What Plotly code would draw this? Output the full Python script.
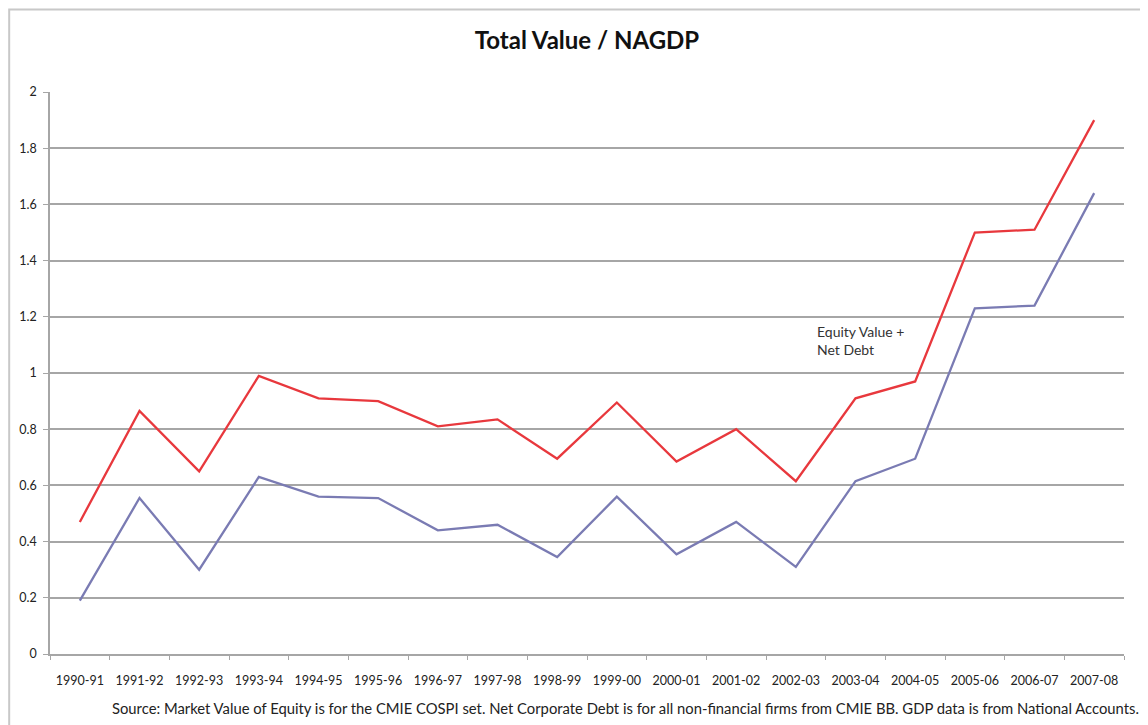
import plotly.graph_objects as go

# data
years = [
    "1990-91", "1991-92", "1992-93", "1993-94", "1994-95", "1995-96",
    "1996-97", "1997-98", "1998-99", "1999-00", "2000-01", "2001-02",
    "2002-03", "2003-04", "2004-05", "2005-06", "2006-07", "2007-08",
]
equity_plus_debt = [
    0.47, 0.865, 0.65, 0.99, 0.91, 0.90, 0.81, 0.835, 0.695, 0.895,
    0.685, 0.80, 0.615, 0.91, 0.97, 1.50, 1.51, 1.90,
]
equity_value = [
    0.19, 0.555, 0.30, 0.63, 0.56, 0.555, 0.44, 0.46, 0.345, 0.56,
    0.355, 0.47, 0.31, 0.615, 0.695, 1.23, 1.24, 1.64,
]
y_ticks = [0, 0.2, 0.4, 0.6, 0.8, 1, 1.2, 1.4, 1.6, 1.8, 2]

RED = "#E8383D"
BLUE = "#7A7BB3"
GRID = "#A6A6A6"
FONT = "Lato"

fig = go.Figure()
fig.add_trace(go.Scatter(x=years, y=equity_plus_debt, mode="lines",
                         line={"color": RED, "width": 2.3}, name="Equity Value + Net Debt"))
fig.add_trace(go.Scatter(x=years, y=equity_value, mode="lines",
                         line={"color": BLUE, "width": 2.3}, name="Equity Value"))

fig.add_annotation(x=12.32, y=1.115, xref="x", yref="y", xanchor="left", yanchor="middle",
                   text="Equity Value +<br>Net Debt", showarrow=False, align="left",
                   font={"family": FONT, "size": 14, "color": "#333333"})

fig.add_annotation(x=1.016, y=-0.096, xref="paper", yref="paper", xanchor="right", yanchor="middle",
                   text="Source: Market Value of Equity is for the CMIE COSPI set. Net Corporate Debt is "
                        "for all non-financial firms from CMIE BB. GDP data is from National Accounts.",
                   showarrow=False, font={"family": FONT, "size": 14.8, "color": "#222222"})

# outer chart frame (only left and top edges fall inside the picture)
fig.add_shape(type="rect", xref="paper", yref="paper", x0=-0.038, x1=1.2, y0=-0.3, y1=1.147,
              line={"color": "#C8C8C8", "width": 2}, fillcolor="rgba(0,0,0,0)", layer="below")

# page body keeps its default 8px margin, so the figure is 8px smaller
fig.update_layout(
    width=1140, height=717,
    margin={"l": 42, "r": 24, "t": 84, "b": 71},
    paper_bgcolor="white", plot_bgcolor="white",
    showlegend=False,
    title={"text": "<b>Total Value / NAGDP</b>", "x": 0.5, "xref": "paper", "xanchor": "center",
           "y": 0.955, "yanchor": "middle",
           "font": {"family": FONT, "size": 24, "color": "#111111"}},
    font={"family": FONT, "size": 12.5, "color": "#222222"},
)
fig.update_xaxes(type="category", showgrid=False, showline=True, linecolor=GRID, linewidth=1.5,
                 ticks="outside", tickson="boundaries", ticklen=4, tickcolor=GRID,
                 ticklabelstandoff=14, tickfont={"family": FONT, "size": 12.5}, range=[-0.5, 17.5])
fig.update_yaxes(range=[0, 2], tickvals=y_ticks, showgrid=True, gridcolor=GRID, gridwidth=1.5,
                 showline=True, linecolor=GRID, linewidth=1.5, ticks="outside", ticklen=5,
                 tickcolor=GRID, zeroline=False, ticklabelstandoff=4,
                 tickfont={"family": FONT, "size": 12.5})

fig.write_html("out.html")
